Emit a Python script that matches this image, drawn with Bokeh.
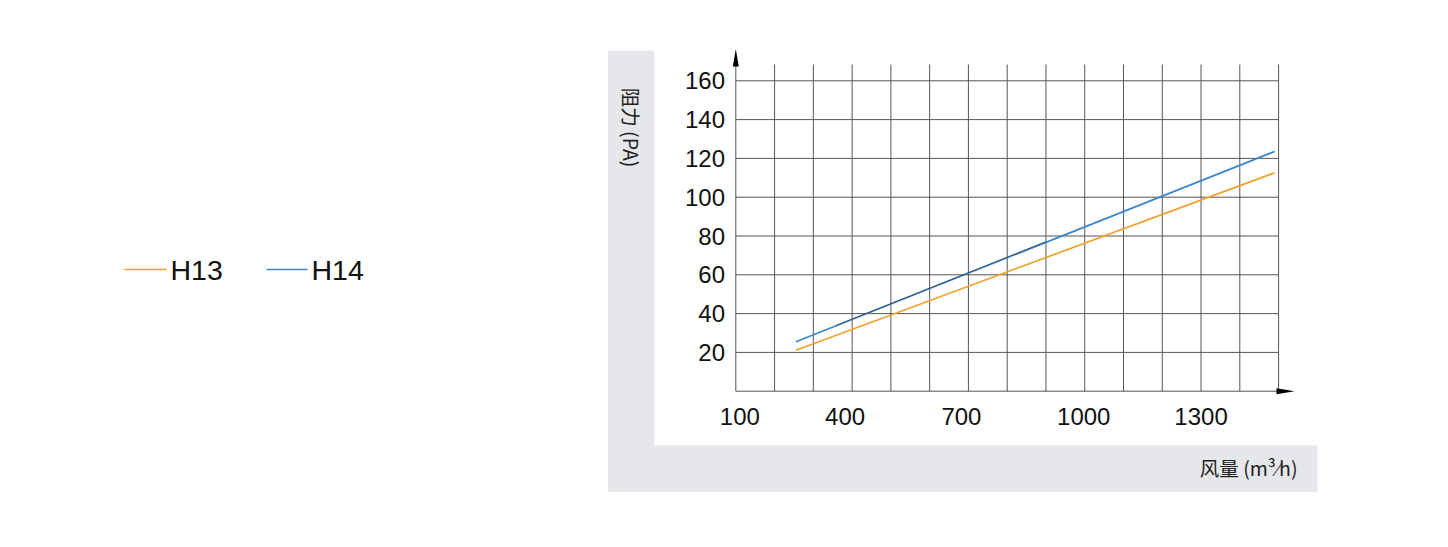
from bokeh.plotting import figure
from bokeh.models import Range1d
from bokeh.core.properties import value
from bokeh.embed import file_html
from bokeh.resources import INLINE

# ---- data ----
series_names = ["H13", "H14"]
airflow = [255, 1490]                  # m3/h
h13_resistance = [21.1, 112.6]         # Pa
h14_resistance = [25.5, 123.6]         # Pa
overlap_x = [360, 900]                 # dark overlay seen on H14 in reference
overlap_y = [34.0, 77.1]
x_tick_values = [100, 400, 700, 1000, 1300]
x_tick_labels = ["100", "400", "700", "1000", "1300"]
y_tick_values = [20, 40, 60, 80, 100, 120, 140, 160]
y_tick_labels = ["20", "40", "60", "80", "100", "120", "140", "160"]
x_grid_values = [100, 200, 300, 400, 500, 600, 700, 800, 900, 1000, 1100, 1200, 1300, 1400, 1500]
y_title = "阻力 (PA)"
x_title = "风量 (m³⁄h)"

# ---- layout helpers (picture pixel -> data) ----
W, H = 1432, 531
X0, SX = 735.3, 0.3877   # picture x of x=100, px per unit
Y0, SY = 390.7, 1.94     # picture y of y=0, px per unit
x_label_nudge = [4, -7, -7, -1, 0]   # small hand offsets of x tick labels (px)


def dx(px):
    return 100 + (px - X0) / SX


def dy(py):
    return (Y0 - py) / SY


p = figure(width=W, height=H, output_backend="svg", toolbar_location=None,
           x_range=Range1d(dx(0), dx(W)), y_range=Range1d(dy(H), dy(0)),
           x_axis_location=None, y_axis_location=None, min_border=0,
           outline_line_color=None)
p.grid.visible = False
p.background_fill_color = "white"
p.border_fill_color = "white"

GRID = "#5a5351"
PANEL = "#e6e7ea"
FONT = value("Liberation Sans")
CJK = value("Noto Sans CJK SC")

# L-shaped grey panel
p.patch([dx(607.5), dx(654), dx(654), dx(1317), dx(1317), dx(607.5)],
        [dy(50), dy(50), dy(445), dy(445), dy(491.5), dy(491.5)],
        fill_color=PANEL, line_color=None)

# grid
x_min, x_max = 100, 1500
y_top = dy(64)
p.segment(x0=x_grid_values[1:], y0=[0] * (len(x_grid_values) - 1),
          x1=x_grid_values[1:], y1=[y_top] * (len(x_grid_values) - 1),
          line_color=GRID, line_width=1)
p.segment(x0=[x_min] * len(y_tick_values), y0=y_tick_values,
          x1=[x_max] * len(y_tick_values), y1=y_tick_values,
          line_color=GRID, line_width=1)

# axes with arrows
p.segment(x0=[x_min], y0=[0], x1=[x_min], y1=[dy(64)], line_color=GRID, line_width=1)
p.segment(x0=[x_min], y0=[0], x1=[dx(1278)], y1=[0], line_color=GRID, line_width=1)
hw = 3.0 / SX
hh = 3.0 / SY
p.patch([x_min - hw, x_min, x_min + hw], [dy(66), dy(48.5), dy(66)],
        fill_color="black", line_color=None)
p.patch([dx(1276), dx(1294), dx(1276)], [hh, 0, -hh],
        fill_color="black", line_color=None)

# data lines
p.line(airflow, h13_resistance, line_color="#f0a32c", line_width=1.7)
p.line(airflow, h14_resistance, line_color="#3a86cc", line_width=1.7)
p.line(overlap_x, overlap_y, line_color="#333333", line_width=0.8, line_alpha=0.8)

# tick labels
p.text(x=[dx(724.5)] * len(y_tick_values), y=y_tick_values, text=y_tick_labels,
       text_align="right", text_baseline="middle", text_font=FONT,
       text_font_size="24px", text_color="#111111")
p.text(x=x_tick_values, y=[dy(415.5)] * len(x_tick_values), text=x_tick_labels,
       x_offset=x_label_nudge,
       text_align="center", text_baseline="middle", text_font=FONT,
       text_font_size="24px", text_color="#111111")

# axis titles
p.text(x=[dx(631)], y=[dy(127)], text=[y_title], angle=-1.5708,
       text_align="center", text_baseline="middle", text_font=CJK,
       text_font_size="19.5px", text_color="#222222")
p.text(x=[dx(1297)], y=[dy(467)], text=[x_title],
       text_align="right", text_baseline="middle", text_font=CJK,
       text_font_size="19.5px", text_color="#222222")

# legend
leg_y = dy(269)
p.segment(x0=[dx(124), dx(266)], y0=[leg_y, leg_y], x1=[dx(166), dx(307)], y1=[leg_y, leg_y],
          line_color=["#f0a32c", "#3a86cc"], line_width=1.6)
p.text(x=[dx(170), dx(311)], y=[leg_y, leg_y], text=series_names,
       text_align="left", text_baseline="middle", text_font=FONT,
       text_font_size="28.5px", text_color="#111111")

open("out.html", "w").write(file_html(p, INLINE))
